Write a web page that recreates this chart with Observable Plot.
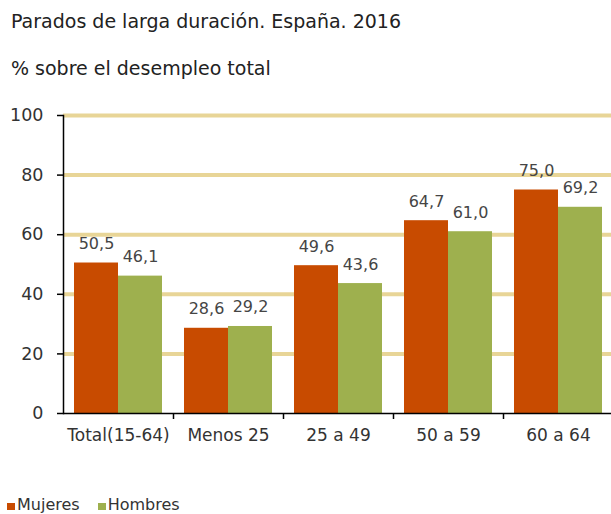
<!DOCTYPE html>
<html><head><meta charset="utf-8">
<script src="https://cdn.jsdelivr.net/npm/d3@7"></script>
<script src="https://cdn.jsdelivr.net/npm/@observablehq/plot@0.6"></script>
<style>
body{margin:0;background:#fff;width:611px;height:514px;overflow:hidden;position:relative;font-family:"DejaVu Sans",sans-serif;color:#222}
#title,#subtitle{position:absolute;left:11px;font-size:19px;line-height:1;white-space:nowrap}
#title{top:12px}
#subtitle{top:59px}
#chart{position:absolute;left:0;top:90px}
#legend{position:absolute;left:7px;top:497px;font-size:16px;line-height:1;color:#333;white-space:nowrap}
#legend span.item{display:inline-block;margin-right:18px}
#legend span.sw{display:inline-block;width:8px;height:7px;margin-right:2px;vertical-align:baseline}
</style></head><body>
<div id="title">Parados de larga duración. España. 2016</div>
<div id="subtitle">% sobre el desempleo total</div>
<div id="chart"></div>
<div id="legend"></div>
<script>
const categories = ["Total(15-64)", "Menos 25", "25 a 49", "50 a 59", "60 a 64"];
const mujeres = [50.5, 28.6, 49.6, 64.7, 75.0];
const hombres = [46.1, 29.2, 43.6, 61.0, 69.2];
const series = ["Mujeres", "Hombres"];
const colors = ["#C84B00", "#9EB04E"];
const yTicks = [0, 20, 40, 60, 80, 100];

const dataM = categories.map((c, i) => ({cat: c, sexo: "Mujeres", v: mujeres[i]}));
const dataH = categories.map((c, i) => ({cat: c, sexo: "Hombres", v: hombres[i]}));
const fmt = v => v.toFixed(1).replace(".", ",");

const chart = Plot.plot({
  width: 611, height: 360,
  marginTop: 25, marginBottom: 37, marginLeft: 63, marginRight: 0,
  style: {fontFamily: "DejaVu Sans", fontSize: "17px", color: "#333", background: "transparent"},
  x: {domain: categories, range: [63, 613], padding: 0, label: null},
  y: {domain: [0, 100], label: null},
  color: {domain: series, range: colors},
  marks: [
    Plot.ruleY(yTicks.filter(d => d > 0), {stroke: "#E8D597", strokeWidth: 4}),
    Plot.barY(dataM, {x: "cat", y: "v", fill: "sexo", insetLeft: 11, insetRight: 55}),
    Plot.barY(dataH, {x: "cat", y: "v", fill: "sexo", insetLeft: 55, insetRight: 11}),
    Plot.ruleY([0], {stroke: "#000", strokeWidth: 1.5}),
    Plot.frame({anchor: "left", stroke: "#000", strokeWidth: 1.5}),
    Plot.ruleX(categories, {x: d => d, y1: 0, y2: 0, dx: 55, insetBottom: -6, stroke: "#000", strokeWidth: 1.5}),
    Plot.axisY({ticks: yTicks, tickSize: 6, tickPadding: 14, label: null, fontSize: 17.5, stroke: "#000", strokeWidth: 1.5}),
    Plot.axisX({tickSize: 0, tickPadding: 15, label: null, fontSize: 17}),
    Plot.text(dataM, {x: "cat", y: "v", text: d => fmt(d.v), dx: -22, dy: -14, lineAnchor: "bottom", fontSize: 16, fill: "#454545"}),
    Plot.text(dataH, {x: "cat", y: "v", text: d => fmt(d.v), dx: 22, dy: -14, lineAnchor: "bottom", fontSize: 16, fill: "#454545"})
  ]
});
document.getElementById("chart").appendChild(chart);

const legend = document.getElementById("legend");
series.forEach((s, i) => {
  const item = document.createElement("span");
  item.className = "item";
  const sw = document.createElement("span");
  sw.className = "sw";
  sw.style.background = colors[i];
  item.appendChild(sw);
  item.appendChild(document.createTextNode(s));
  legend.appendChild(item);
});
</script>
</body></html>
